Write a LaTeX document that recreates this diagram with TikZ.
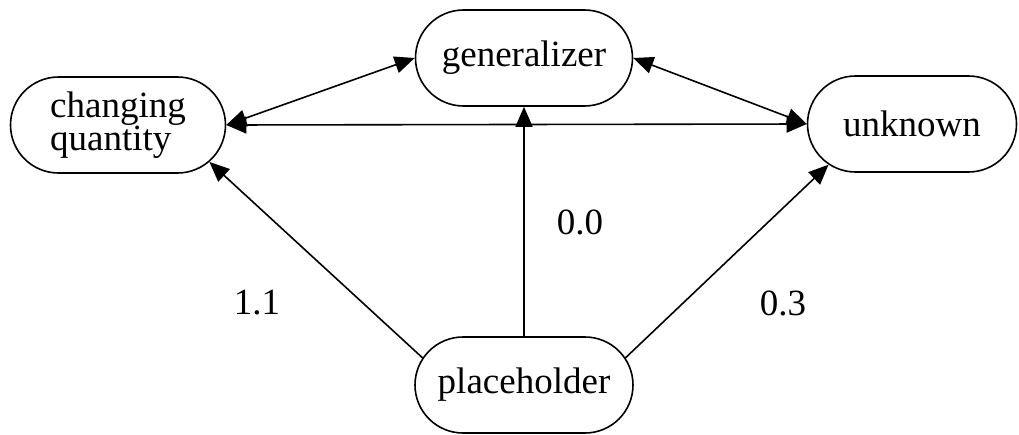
\documentclass[tikz,border=0pt]{standalone}
\usepackage{fontspec}
\setmainfont{Liberation Serif}
\usetikzlibrary{shapes.misc,arrows.meta}
\begin{document}
\begin{tikzpicture}[x=1pt,y=-1pt,
  concept/.style={rounded rectangle, draw, line width=1.6pt, inner sep=0pt,
    minimum height=96pt, font=\fontsize{37}{31}\selectfont},
  link/.style={line width=1.6pt, -{Triangle[length=20pt,width=17pt]}},
  biline/.style={line width=1.6pt, {Triangle[length=20pt,width=17pt]}-{Triangle[length=20pt,width=17pt]}},
  weight/.style={font=\fontsize{37}{40}\selectfont}]
  \useasboundingbox (0,0) rectangle (1019,434);

  \node[concept, minimum width=215pt, align=left] (cq) at (118,125) {changing\\quantity};
  \node[concept, minimum width=217pt] (gen) at (524,58) {generalizer};
  \node[concept, minimum width=209pt] (unk) at (912,124) {unknown};
  \node[concept, minimum width=218pt] (ph) at (524,385) {placeholder};

  % two-way links between the three upper concepts
  \draw[biline] (gen.west) -- (cq.east);
  \draw[biline] (gen.east) -- (unk.west);
  \draw[biline] (cq.east) -- (unk.west);

  % weighted links out of the placeholder
  \draw[link] (ph.165) -- (cq.338);
  \draw[link] (ph.north -| gen.south) -- (gen.south);
  \draw[link] (ph.15) -- (unk.206);

  \node[weight] (w1) at (257,303) {1.1};
  \node[weight] (w2) at (580,222) {0.0};
  \node[weight] (w3) at (783,303) {0.3};
\end{tikzpicture}
\end{document}
